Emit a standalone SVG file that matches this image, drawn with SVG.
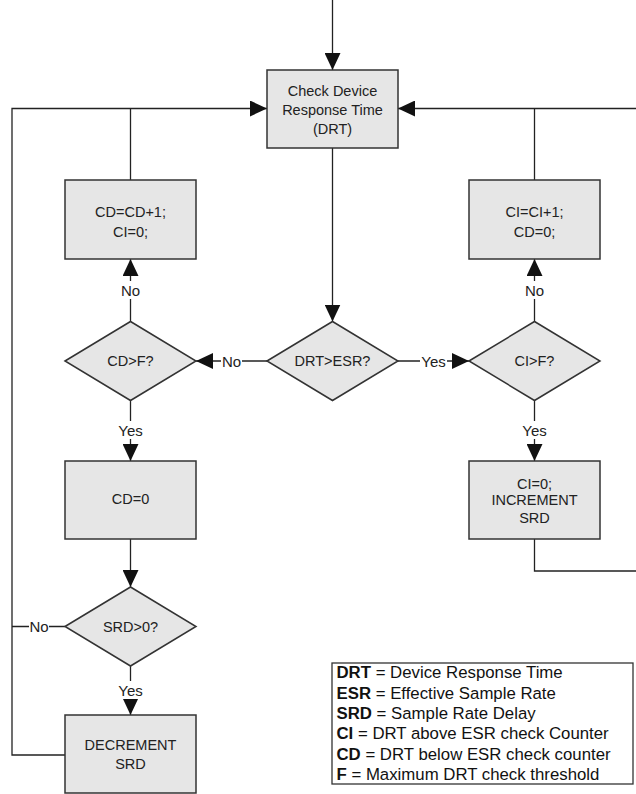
<svg xmlns="http://www.w3.org/2000/svg" width="636" height="794" viewBox="0 0 636 794">
<style>
.box{fill:#e6e6e6;stroke:#333;stroke-width:1.5}
.t{font-family:"Liberation Sans",Arial,sans-serif;font-size:14.5px;fill:#222;text-anchor:middle}
.lbl{font-family:"Liberation Sans",Arial,sans-serif;font-size:15px;fill:#222;text-anchor:middle}
.bg{fill:#fff}
.c{fill:none;stroke:#222;stroke-width:1.3}
.lg{font-family:"Liberation Sans",Arial,sans-serif;font-size:16.8px;fill:#111}
.lg tspan.b{font-weight:bold}
</style>
<defs>
<marker id="ah" viewBox="0 0 17 16" markerWidth="17" markerHeight="16" refX="17" refY="8" orient="auto" markerUnits="userSpaceOnUse">
<path d="M0,0 L17,8 L0,16 z" fill="#111"/>
</marker>
</defs>
<rect width="636" height="794" fill="#fff"/>
<g id="connectors">
<path class="c" d="M332.5,0 V70" marker-end="url(#ah)"/>
<path class="c" d="M332.5,148 V321.5" marker-end="url(#ah)"/>
<path class="c" d="M267,361 H196" marker-end="url(#ah)"/>
<path class="c" d="M398,361 H469" marker-end="url(#ah)"/>
<path class="c" d="M130.5,321.5 V259" marker-end="url(#ah)"/>
<path class="c" d="M130.5,180 V108.5"/>
<path class="c" d="M65,755 H12 V108.5 H267" marker-end="url(#ah)"/>
<path class="c" d="M65,626.5 H12"/>
<path class="c" d="M130.5,400.5 V461" marker-end="url(#ah)"/>
<path class="c" d="M130.5,539 V587" marker-end="url(#ah)"/>
<path class="c" d="M130.5,666 V715" marker-end="url(#ah)"/>
<path class="c" d="M534.5,180 V108.5"/>
<path class="c" d="M636,108.5 H398" marker-end="url(#ah)"/>
<path class="c" d="M534.5,321.5 V259" marker-end="url(#ah)"/>
<path class="c" d="M534.5,400.5 V461" marker-end="url(#ah)"/>
<path class="c" d="M534.5,539 V571 H636"/>
<rect class="bg" x="221" y="353" width="21" height="16"/>
<text class="lbl" x="231.5" y="366.5">No</text>
<rect class="bg" x="420" y="353" width="27" height="16"/>
<text class="lbl" x="433.5" y="366.5">Yes</text>
<rect class="bg" x="120" y="281" width="21" height="18"/>
<text class="lbl" x="130.5" y="295.5">No</text>
<rect class="bg" x="524" y="281" width="21" height="18"/>
<text class="lbl" x="534.5" y="295.5">No</text>
<rect class="bg" x="117" y="421" width="27" height="18"/>
<text class="lbl" x="130.5" y="435.5">Yes</text>
<rect class="bg" x="521" y="421" width="27" height="18"/>
<text class="lbl" x="534.5" y="435.5">Yes</text>
<rect class="bg" x="117" y="681" width="27" height="18"/>
<text class="lbl" x="130.5" y="695.5">Yes</text>
<rect class="bg" x="29" y="618" width="20" height="16"/>
<text class="lbl" x="39" y="632">No</text>
</g>
<g id="check-drt">
<rect class="box" x="267" y="70" width="131" height="78"/>
<text class="t" x="332.5" y="96">Check Device</text>
<text class="t" x="332.5" y="114.5">Response Time</text>
<text class="t" x="332.5" y="133.5">(DRT)</text>
</g>
<g id="cd-inc">
<rect class="box" x="65" y="180" width="131" height="79"/>
<text class="t" x="130.5" y="217">CD=CD+1;</text>
<text class="t" x="130.5" y="237">CI=0;</text>
</g>
<g id="ci-inc">
<rect class="box" x="469" y="180" width="131" height="79"/>
<text class="t" x="534.5" y="217">CI=CI+1;</text>
<text class="t" x="534.5" y="237">CD=0;</text>
</g>
<g id="cd-gt-f">
<polygon class="box" points="65,361 130.5,321.5 196,361 130.5,400.5"/>
<text class="t" x="130.5" y="366">CD&gt;F?</text>
</g>
<g id="drt-gt-esr">
<polygon class="box" points="267,361 332.5,321.5 398,361 332.5,400.5"/>
<text class="t" x="332.5" y="366">DRT&gt;ESR?</text>
</g>
<g id="ci-gt-f">
<polygon class="box" points="469,361 534.5,321.5 600,361 534.5,400.5"/>
<text class="t" x="534.5" y="366">CI&gt;F?</text>
</g>
<g id="cd-zero">
<rect class="box" x="65" y="461" width="131" height="78"/>
<text class="t" x="130.5" y="504">CD=0</text>
</g>
<g id="ci-zero">
<rect class="box" x="469" y="461" width="131" height="78"/>
<text class="t" x="534.5" y="488.5">CI=0;</text>
<text class="t" x="534.5" y="505">INCREMENT</text>
<text class="t" x="534.5" y="522.5">SRD</text>
</g>
<g id="srd-gt-0">
<polygon class="box" points="65,626.5 130.5,587 196,626.5 130.5,666"/>
<text class="t" x="130.5" y="631.5">SRD&gt;0?</text>
</g>
<g id="decrement">
<rect class="box" x="65" y="715" width="131" height="78"/>
<text class="t" x="130.5" y="750">DECREMENT</text>
<text class="t" x="130.5" y="768.5">SRD</text>
</g>
<g id="legend">
<rect x="332" y="663" width="301" height="121" fill="#fff" stroke="#333" stroke-width="1.3"/>
<text class="lg" x="336.5" y="678.3"><tspan class="b">DRT</tspan> = Device Response Time</text>
<text class="lg" x="336.5" y="698.7"><tspan class="b">ESR</tspan> = Effective Sample Rate</text>
<text class="lg" x="336.5" y="719"><tspan class="b">SRD</tspan> = Sample Rate Delay</text>
<text class="lg" x="336.5" y="739.4"><tspan class="b">CI</tspan> = DRT above ESR check Counter</text>
<text class="lg" x="336.5" y="759.8"><tspan class="b">CD</tspan> = DRT below ESR check counter</text>
<text class="lg" x="336.5" y="780.2"><tspan class="b">F</tspan> = Maximum DRT check threshold</text>
</g>
</svg>
